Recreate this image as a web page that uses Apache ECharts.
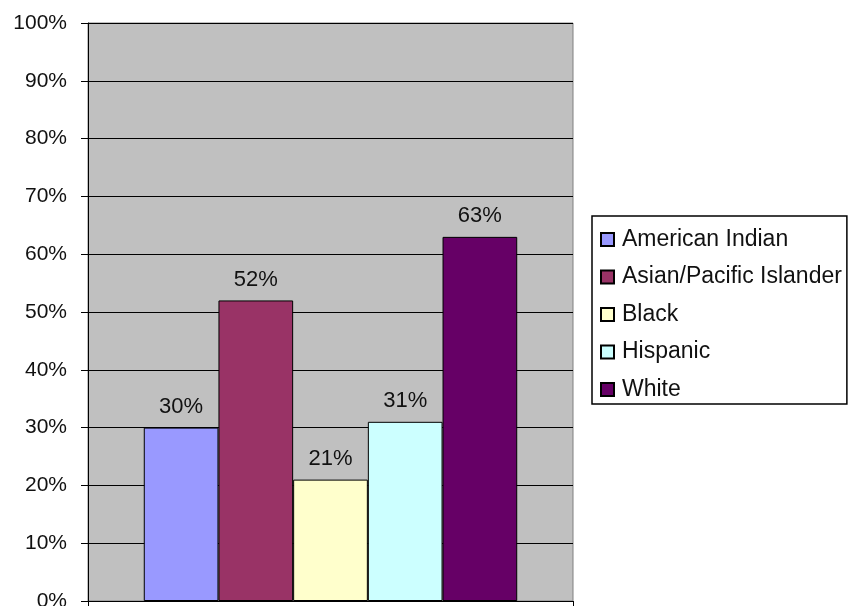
<!DOCTYPE html>
<html>
<head>
<meta charset="utf-8">
<script src="https://cdn.jsdelivr.net/npm/echarts@6/dist/echarts.min.js"></script>
<style>
html,body{margin:0;padding:0;background:#fff;}
#chart{width:849px;height:606px;}
</style>
</head>
<body>
<div id="chart"></div>
<script>
const categories = [''];
const seriesNames = ['American Indian', 'Asian/Pacific Islander', 'Black', 'Hispanic', 'White'];
const seriesValues = [30, 52, 21, 31, 63];
const seriesColors = ['#9999FF', '#993366', '#FFFFCC', '#CCFFFF', '#660066'];
const yMin = 0, yMax = 100, yStep = 10;

const FONT = "'Liberation Sans', Arial, sans-serif";
const chart = echarts.init(document.getElementById('chart'), null, {renderer: 'canvas'});

const series = seriesNames.map((name, i) => ({
  name: name,
  type: 'bar',
  data: [seriesValues[i]],
  barGap: '0%',
  barCategoryGap: '23%',
  itemStyle: {color: seriesColors[i], borderColor: '#000', borderWidth: 1},
  label: {
    show: true, position: 'top', distance: 10,
    formatter: '{c}%', color: '#111', fontSize: 22, fontFamily: FONT
  },
  emphasis: {disabled: true}
}));

chart.setOption({
  animation: false,
  backgroundColor: '#fff',
  grid: {
    left: 88, right: 276, top: 23, bottom: 5,
    outerBoundsMode: 'none',
    containLabel: false,
    show: true, backgroundColor: '#C0C0C0', borderColor: '#808080', borderWidth: 1
  },
  legend: {
    orient: 'vertical',
    left: 592, top: 216,
    padding: [12, 5, 3, 8],
    itemGap: 14.5,
    itemWidth: 13, itemHeight: 13,
    icon: 'rect',
    borderColor: '#000', borderWidth: 1.5,
    textStyle: {fontSize: 23, fontFamily: FONT, color: '#111', padding: [0, 0, 0, 3]},
    data: seriesNames
  },
  xAxis: {
    type: 'category',
    data: categories,
    axisLine: {show: true, lineStyle: {color: '#000', width: 1}},
    axisTick: {show: true, length: 5, lineStyle: {color: '#000'}},
    axisLabel: {show: false},
    splitLine: {show: false}
  },
  yAxis: {
    type: 'value',
    min: yMin, max: yMax, interval: yStep,
    axisLine: {show: true, lineStyle: {color: '#000', width: 1}},
    axisTick: {show: true, length: 7, lineStyle: {color: '#000'}},
    axisLabel: {formatter: '{value}%', fontSize: 21, fontFamily: FONT, color: '#111', margin: 21},
    splitLine: {show: true, lineStyle: {color: '#000', width: 1}}
  },
  series: series
});
</script>
</body>
</html>
